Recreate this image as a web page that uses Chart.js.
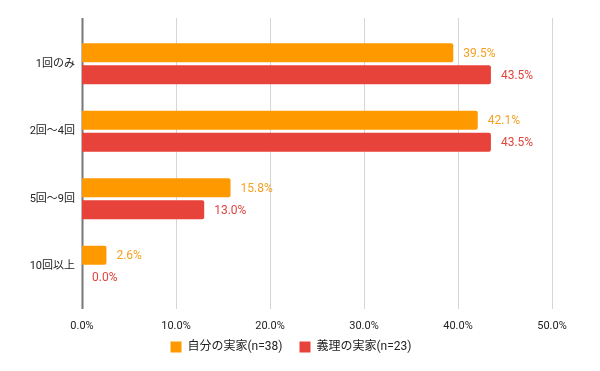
<!DOCTYPE html>
<html><head><meta charset="utf-8">
<script src="https://cdn.jsdelivr.net/npm/chart.js@4"></script>
<style>html,body{margin:0;padding:0;background:#fff}#wrap{width:600px;height:371px}</style>
</head><body><div id="wrap"><canvas id="c" width="600" height="371"></canvas></div>
<script>
const categories = ['1回のみ', '2回～4回', '5回～9回', '10回以上'];
const seriesNames = ['自分の実家(n=38)', '義理の実家(n=23)'];
const ownHome = [39.5, 42.1, 15.8, 2.6];
const inLawHome = [43.5, 43.5, 13.0, 0.0];
const xTicks = [0, 10, 20, 30, 40, 50];

const FONT = "Roboto, 'Noto Sans CJK JP', sans-serif";
const ORANGE = '#ff9900';
const RED = '#e8433a';

const gridPlugin = {
  id: 'grid',
  beforeLayout(chart) {
    const lg = chart.legend;
    if (lg && !lg._patched) {
      const f = lg.fit.bind(lg);
      lg.fit = function () { f(); this.height = 31; };
      lg._patched = true;
    }
  },
  afterLayout(chart) {
    const lg = chart.legend;
    if (lg) {
      lg.right = 582; lg.width = 582 - lg.left;
      const h = lg.height; lg.top = 324; lg.bottom = 324 + h;
    }
  },
  beforeDatasetsDraw(chart) {
    const {ctx, chartArea, scales} = chart;
    const x = scales.x;
    ctx.save();
    x.ticks.forEach(t => {
      const px = Math.round(x.getPixelForValue(t.value)) + 0.5;
      ctx.beginPath();
      if (t.value === 0) { ctx.strokeStyle = '#777'; ctx.lineWidth = 2; }
      else { ctx.strokeStyle = '#d6d6d6'; ctx.lineWidth = 1; }
      ctx.moveTo(px, chartArea.top - 12);
      ctx.lineTo(px, chartArea.bottom + 9);
      ctx.stroke();
    });
    ctx.restore();
  }
};

const labelPlugin = {
  id: 'vals',
  afterDatasetsDraw(chart) {
    const {ctx} = chart;
    ctx.save();
    ctx.font = '12px ' + FONT;
    ctx.textAlign = 'left';
    ctx.textBaseline = 'middle';
    chart.data.datasets.forEach((ds, i) => {
      const meta = chart.getDatasetMeta(i);
      ctx.fillStyle = ds.labelColor;
      meta.data.forEach((bar, j) => {
        const v = ds.data[j];
        ctx.fillText(v.toFixed(1) + '%', bar.x + 10, bar.y + 1);
      });
    });
    ctx.restore();
  }
};

new Chart(document.getElementById('c'), {
  type: 'bar',
  data: {
    labels: categories,
    datasets: [
      {label: seriesNames[0], data: ownHome, backgroundColor: ORANGE, labelColor: '#f5a020', borderRadius: 2, borderSkipped: 'start'},
      {label: seriesNames[1], data: inLawHome, backgroundColor: RED, labelColor: '#e0453e', borderRadius: 2, borderSkipped: 'start'}
    ]
  },
  options: {
    indexAxis: 'y',
    responsive: false,
    animation: false,
    devicePixelRatio: 1,
    layout: {padding: {top: 30, right: 48, left: 0, bottom: 0}},
    datasets: {bar: {categoryPercentage: 0.652, barPercentage: 0.87}},
    scales: {
      x: {
        min: 0, max: 50,
        afterBuildTicks: s => { s.ticks = xTicks.map(v => ({value: v})); },
        afterFit: s => { s.height = 40; },
        grid: {display: false},
        border: {display: false},
        ticks: {padding: 12, color: '#222', font: {family: FONT, size: 11}, callback: v => v.toFixed(1) + '%'}
      },
      y: {
        afterFit: s => { s.width = 82; },
        grid: {display: false, drawTicks: false},
        border: {display: false},
        ticks: {padding: 7, color: '#222', font: {family: FONT, size: 11}}
      }
    },
    plugins: {
      legend: {
        position: 'bottom',
        labels: {boxWidth: 11, boxHeight: 11, padding: 17, color: '#222', font: {family: FONT, size: 12}}
      },
      tooltip: {enabled: false}
    }
  },
  plugins: [gridPlugin, labelPlugin]
});
</script></body></html>
